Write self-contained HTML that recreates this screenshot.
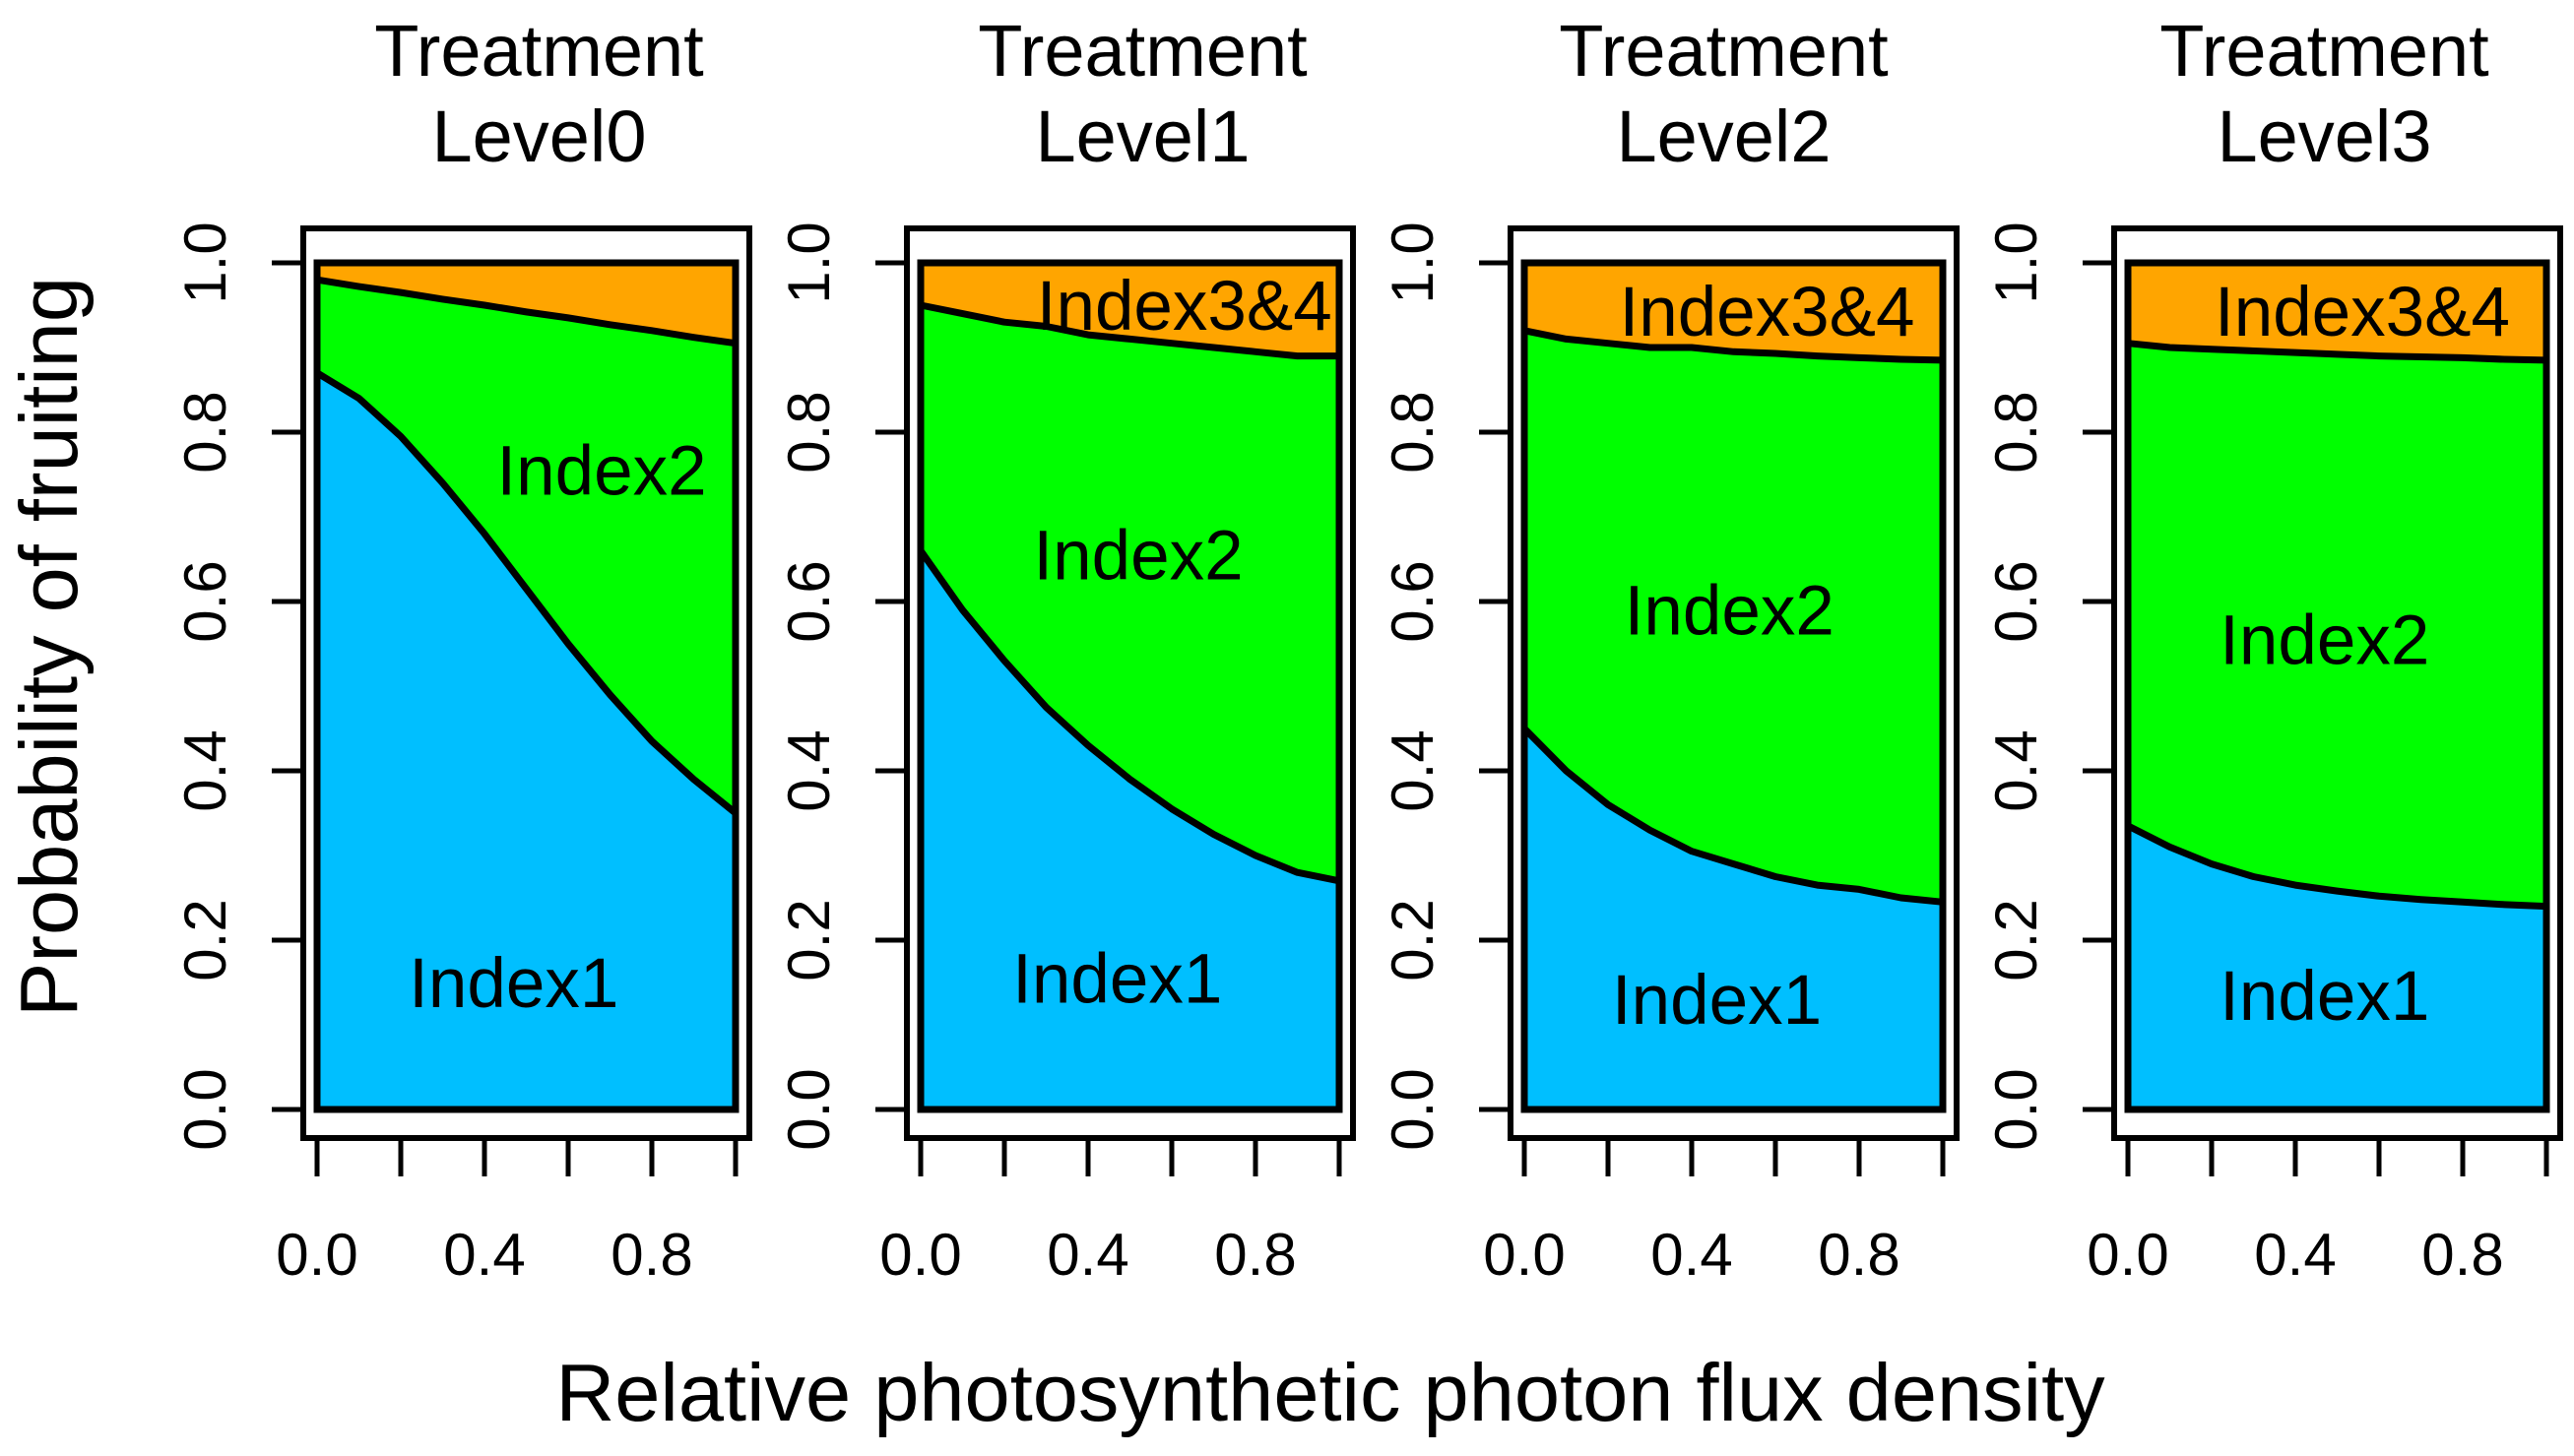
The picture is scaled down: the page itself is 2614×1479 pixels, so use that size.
<!DOCTYPE html>
<html><head><meta charset="utf-8"><style>
html,body{margin:0;padding:0;background:#fff;}
svg{display:block;font-family:"Liberation Sans",Arial,sans-serif;}
</style></head><body>
<svg id="chart" width="2614" height="1479" viewBox="0 0 2614 1479" xmlns="http://www.w3.org/2000/svg">
<rect width="2614" height="1479" fill="#fff"/>
<text x="0" y="0" transform="translate(78,657) rotate(-90)" text-anchor="middle" font-size="83">Probability of fruiting</text>
<text x="1351" y="1443" text-anchor="middle" font-size="83">Relative photosynthetic photon flux density</text>
</svg>
<script>
const xs = [0,0.1,0.2,0.3,0.4,0.5,0.6,0.7,0.8,0.9,1.0];
const panelTitles = ["Level0","Level1","Level2","Level3"];
const index1Top = [
  [0.87,0.84,0.795,0.74,0.68,0.615,0.55,0.49,0.435,0.39,0.35],
  [0.66,0.59,0.53,0.475,0.43,0.39,0.355,0.325,0.30,0.28,0.27],
  [0.45,0.40,0.36,0.33,0.305,0.29,0.275,0.265,0.26,0.25,0.245],
  [0.335,0.31,0.29,0.275,0.265,0.258,0.252,0.248,0.245,0.242,0.24]
];
const index2Top = [
  [0.98,0.972,0.965,0.957,0.95,0.942,0.935,0.927,0.92,0.912,0.905],
  [0.95,0.94,0.93,0.925,0.915,0.91,0.905,0.90,0.895,0.89,0.89],
  [0.92,0.91,0.905,0.90,0.90,0.895,0.893,0.89,0.888,0.886,0.885],
  [0.905,0.90,0.898,0.896,0.894,0.892,0.89,0.889,0.888,0.886,0.885]
];
const labelIdx1 = [[0.47,0.15],[0.47,0.155],[0.46,0.13],[0.47,0.135]];
const labelIdx2 = [[0.68,0.755],[0.52,0.655],[0.49,0.59],[0.47,0.555]];
const labelIdx34 = [null,[0.63,0.95],[0.58,0.943],[0.56,0.943]];
const yTicks = [0,0.2,0.4,0.6,0.8,1.0];
const yTickLabels = ["0.0","0.2","0.4","0.6","0.8","1.0"];
const xTicks = [0,0.2,0.4,0.6,0.8,1.0];
const xTickLabels = ["0.0","","0.4","","0.8",""];

const svg = document.getElementById('chart');
const NS = 'http://www.w3.org/2000/svg';
function mk(tag, attrs, parent){const e=document.createElementNS(NS,tag);for(const k in attrs)e.setAttribute(k,attrs[k]);(parent||svg).appendChild(e);return e;}
const panelLeft = [322,935,1548,2161], PW = 425, TOP = 267, BOT = 1127;
const titleShift = [13,13,-10,-13];
function yS(v){return BOT - v*(BOT-TOP);}

for(let p=0;p<4;p++){
  const L = panelLeft[p];
  const xS = v => L + v*PW;
  const g = mk('g',{});
  
  
  const t1 = mk('text',{x:L+PW/2+titleShift[p],y:77,'text-anchor':'middle','font-size':74},g); t1.textContent='Treatment';
  
  
  const t2 = mk('text',{x:L+PW/2+titleShift[p],y:164,'text-anchor':'middle','font-size':74},g); t2.textContent=panelTitles[p];
  
  
  const fr = mk('rect',{x:L-14,y:232,width:PW+28,height:924,fill:'none',stroke:'#000','stroke-width':6},g);
  
  
  const top1 = xs.map((x,i)=>xS(x)+','+yS(index1Top[p][i]));
  const top2 = xs.map((x,i)=>xS(x)+','+yS(index2Top[p][i]));
  const a3 = mk('polygon',{points:[xS(0)+','+yS(1),xS(1)+','+yS(1)].concat(top2.slice().reverse()).join(' '),fill:'#FFA500'},g);
  
  
  const a2 = mk('polygon',{points:top2.concat(top1.slice().reverse()).join(' '),fill:'#00FF00'},g);
  
  
  const a1 = mk('polygon',{points:top1.concat([xS(1)+','+yS(0),xS(0)+','+yS(0)]).join(' '),fill:'#00BFFF'},g);
  
  
  const l1 = mk('polyline',{points:top1.join(' '),fill:'none',stroke:'#000','stroke-width':7,'stroke-linejoin':'round'},g);
  
  
  const l2 = mk('polyline',{points:top2.join(' '),fill:'none',stroke:'#000','stroke-width':7,'stroke-linejoin':'round'},g);
  
  
  const pb = mk('rect',{x:L,y:TOP,width:PW,height:BOT-TOP,fill:'none',stroke:'#000','stroke-width':7},g);
  
  
  const labs = [[labelIdx1[p],'Index1'],[labelIdx2[p],'Index2'],[labelIdx34[p],'Index3&4']];
  labs.forEach(([pos,txt])=>{
    if(!pos) return;
    const t = mk('text',{x:xS(pos[0]),y:yS(pos[1])+25,'text-anchor':'middle','font-size':71},g);
    t.textContent = txt;
    
    
  });
  yTicks.forEach((v,i)=>{
    const tk = mk('line',{x1:L-46,x2:L-16,y1:yS(v),y2:yS(v),stroke:'#000','stroke-width':5},g);
    
    
    const tl = mk('text',{x:0,y:0,transform:'translate('+(L-93)+','+yS(v)+') rotate(-90)','text-anchor':'middle','font-size':60},g);
    tl.textContent = yTickLabels[i];
    
    
  });
  xTicks.forEach((v,i)=>{
    const tk = mk('line',{x1:xS(v),x2:xS(v),y1:1156,y2:1195,stroke:'#000','stroke-width':5},g);
    
    
    if(xTickLabels[i]){
      const tl = mk('text',{x:xS(v),y:1295,'text-anchor':'middle','font-size':60},g);
      tl.textContent = xTickLabels[i];
      
      
    }
  });
}
</script>
</body></html>
